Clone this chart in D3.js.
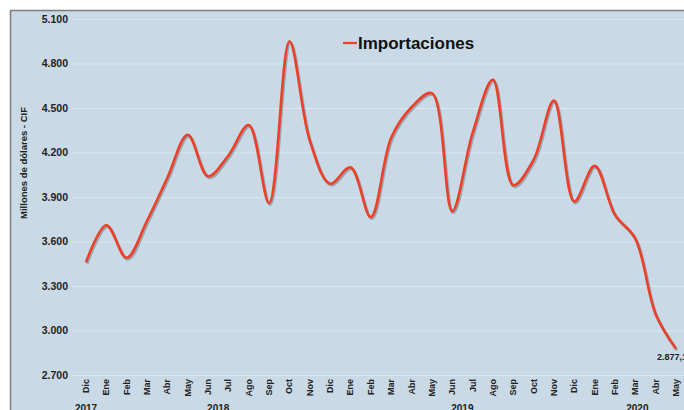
<!DOCTYPE html>
<html>
<head>
<meta charset="utf-8">
<script src="https://cdn.jsdelivr.net/npm/d3@7"></script>
<style>
  body { margin: 0; background: #fff; }
  svg { display: block; font-family: Arial, "Liberation Sans", sans-serif; }
</style>
</head>
<body>
<div id="chart"></div>
<script>
// months shown on the x axis (Dic 2017 .. May 2020)
var months = ["Dic","Ene","Feb","Mar","Abr","May","Jun","Jul","Ago","Sep","Oct","Nov",
              "Dic","Ene","Feb","Mar","Abr","May","Jun","Jul","Ago","Sep","Oct","Nov",
              "Dic","Ene","Feb","Mar","Abr","May"];
// importaciones, millones de dolares CIF
var importaciones = [3460, 3710, 3490, 3740, 4030, 4320, 4040, 4180, 4385, 3860, 4950, 4280,
                     3990, 4100, 3765, 4300, 4505, 4600, 3805, 4330, 4690, 3980, 4150, 4550,
                     3870, 4110, 3780, 3620, 3110, 2877.1];
var yTicks = [2700, 3000, 3300, 3600, 3900, 4200, 4500, 4800, 5100];
// year labels placed under a given month index
var years = [{label: "2017", at: 0}, {label: "2018", at: 6.5}, {label: "2019", at: 18.5}, {label: "2020", at: 27.1}];
var lastLabel = "2.877,1";

var W = 684, H = 410;
var svg = d3.select("#chart").append("svg").attr("width", W).attr("height", H);

// panel background and frame
svg.append("rect").attr("x", 10).attr("y", 10).attr("width", W - 10).attr("height", H - 10)
    .attr("fill", "#c9d9e5");
svg.append("path").attr("d", "M10.5," + H + "V10.5H" + W)
    .attr("fill", "none").attr("stroke", "#7d7d7d").attr("stroke-width", 1.5);

var x = d3.scalePoint().domain(d3.range(months.length)).range([86, 676]);
var y = d3.scaleLinear().domain([2700, 5100]).range([375, 19]);

// grid lines
svg.append("g").selectAll("line").data(yTicks).join("line")
    .attr("x1", 72).attr("x2", W)
    .attr("y1", function(d) { return y(d) + 0.5; })
    .attr("y2", function(d) { return y(d) + 0.5; })
    .attr("stroke", "#dbe6ee").attr("stroke-width", 1);

// y axis
var fmt = function(d) { return d3.format(",")(d).replace(",", "."); };
var yAxis = svg.append("g").attr("transform", "translate(68,0)")
    .call(d3.axisLeft(y).tickValues(yTicks).tickSize(0).tickPadding(0).tickFormat(fmt));
yAxis.select(".domain").remove();
yAxis.selectAll("text").attr("font-size", 10.5).attr("font-weight", "bold")
    .attr("fill", "#222").attr("font-family", "Arial, 'Liberation Sans', sans-serif");

svg.append("text")
    .attr("transform", "translate(27,163) rotate(-90)")
    .attr("text-anchor", "middle")
    .attr("font-size", 9.5).attr("font-weight", "bold").attr("fill", "#222")
    .text("Millones de dólares - CIF");

// x axis month labels
svg.append("g").selectAll("text").data(months).join("text")
    .attr("transform", function(d, i) { return "translate(" + (x(i) + 3) + ",379) rotate(-90)"; })
    .attr("text-anchor", "end")
    .attr("font-size", 9).attr("font-weight", "bold").attr("fill", "#222")
    .text(function(d) { return d; });

var xYear = d3.scaleLinear().domain([0, months.length - 1]).range([86, 676]);
svg.append("g").selectAll("text").data(years).join("text")
    .attr("x", function(d) { return xYear(d.at); })
    .attr("y", 412)
    .attr("text-anchor", "middle")
    .attr("font-size", 10).attr("font-weight", "bold").attr("fill", "#222")
    .text(function(d) { return d.label; });

// series line
var line = d3.line()
    .x(function(d, i) { return x(i); })
    .y(function(d) { return y(d); })
    .curve(d3.curveCatmullRom.alpha(0.5));

svg.append("path").datum(importaciones)
    .attr("d", line)
    .attr("transform", "translate(1,1.5)")
    .attr("fill", "none").attr("stroke", "#5a6670").attr("stroke-opacity", 0.45)
    .attr("stroke-width", 3);
svg.append("path").datum(importaciones)
    .attr("d", line)
    .attr("fill", "none").attr("stroke", "#ec4128").attr("stroke-width", 2.6)
    .attr("stroke-linejoin", "round");

// last value label
svg.append("text")
    .attr("x", x(months.length - 1) - 19)
    .attr("y", y(importaciones[importaciones.length - 1]) + 11)
    .attr("font-size", 9).attr("font-weight", "bold").attr("fill", "#222")
    .text(lastLabel);

// legend
svg.append("line").attr("x1", 343).attr("x2", 357).attr("y1", 43).attr("y2", 43)
    .attr("stroke", "#ec4128").attr("stroke-width", 2.2);
svg.append("text").attr("x", 358).attr("y", 49)
    .attr("font-size", 17).attr("font-weight", "bold").attr("fill", "#111")
    .text("Importaciones");
</script>
</body>
</html>
